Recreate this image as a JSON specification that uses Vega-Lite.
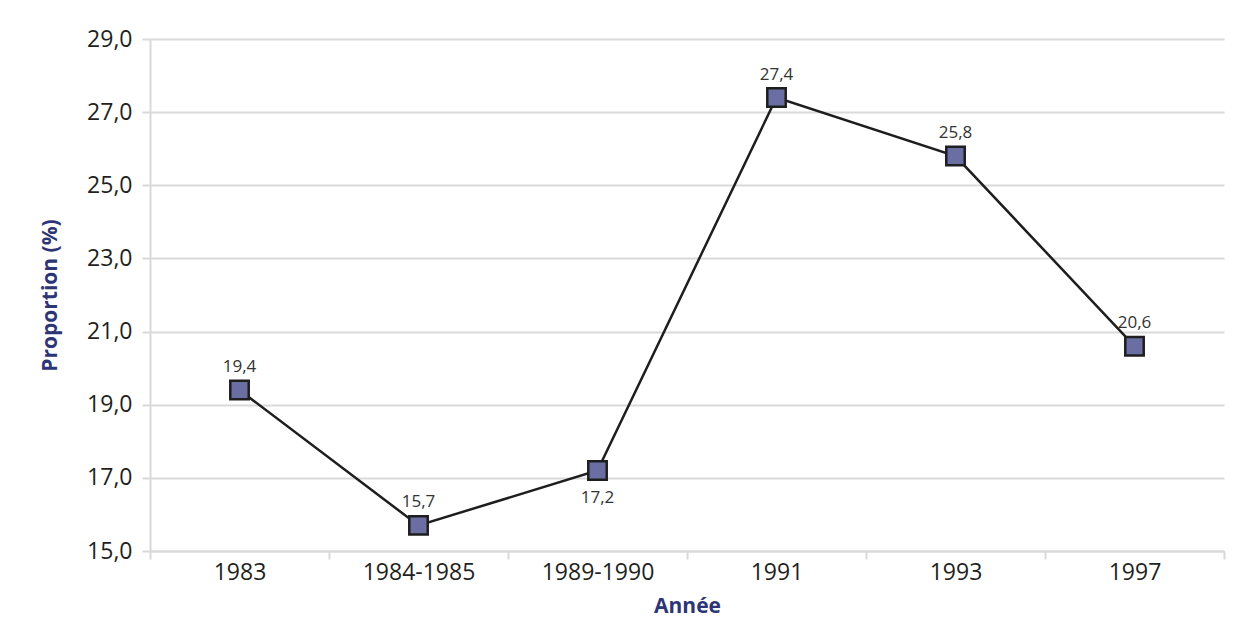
{
  "$schema": "https://vega.github.io/schema/vega-lite/v6.json",
  "width": 1074,
  "height": 512,
  "autosize": {"type": "none"},
  "padding": {"left": 150, "top": 39, "right": 28, "bottom": 81},
  "background": "white",
  "config": {
    "locale": {"number": {"decimal": ",", "thousands": " ", "grouping": [3], "currency": ["", " €"]}},
    "font": "Open Sans",
    "view": {"stroke": null}
  },
  "data": {
    "values": [
      {"annee": "1983", "proportion": 19.4},
      {"annee": "1984-1985", "proportion": 15.7},
      {"annee": "1989-1990", "proportion": 17.2},
      {"annee": "1991", "proportion": 27.4},
      {"annee": "1993", "proportion": 25.8},
      {"annee": "1997", "proportion": 20.6}
    ]
  },
  "encoding": {
    "x": {
      "field": "annee",
      "type": "nominal",
      "sort": null,
      "scale": {"type": "band", "paddingInner": 0, "paddingOuter": 0},
      "axis": {
        "title": "Année",
        "titleFont": "Open Sans",
        "titleFontSize": 21,
        "titleFontWeight": "bold",
        "titleColor": "#2e3575",
        "titlePadding": 11,
        "labelAngle": 0,
        "labelFontSize": 23,
        "labelColor": "#231f20",
        "labelPadding": 2,
        "tickBand": "extent",
        "tickSize": 8,
        "tickColor": "#d9d9d9",
        "tickWidth": 2,
        "domainColor": "#d9d9d9",
        "domainWidth": 2,
        "grid": false
      }
    },
    "y": {
      "field": "proportion",
      "type": "quantitative",
      "scale": {"domain": [15, 29], "nice": false, "zero": false},
      "axis": {
        "title": "Proportion (%)",
        "titleFont": "Open Sans",
        "titleFontSize": 21,
        "titleFontWeight": "bold",
        "titleColor": "#2e3575",
        "titlePadding": 26,
        "values": [15, 17, 19, 21, 23, 25, 27, 29],
        "format": ".1f",
        "labelFontSize": 23,
        "labelColor": "#231f20",
        "labelPadding": 10,
        "tickSize": 8,
        "tickColor": "#d9d9d9",
        "tickWidth": 2,
        "domainColor": "#d9d9d9",
        "domainWidth": 2,
        "grid": true,
        "gridColor": "#d9d9d9",
        "gridWidth": 2
      }
    }
  },
  "layer": [
    {
      "mark": {"type": "line", "color": "#1e1e1e", "strokeWidth": 2.5}
    },
    {
      "mark": {"type": "point", "shape": "square", "filled": true, "size": 340, "fill": "#6b6ea3", "stroke": "#1e1e1e", "strokeWidth": 2.5, "opacity": 1}
    },
    {
      "transform": [{"filter": "datum.annee != '1989-1990'"}],
      "mark": {"type": "text", "dy": -23, "fontSize": 17, "color": "#333333"},
      "encoding": {"text": {"field": "proportion", "type": "quantitative", "format": ".1f"}}
    },
    {
      "transform": [{"filter": "datum.annee == '1989-1990'"}],
      "mark": {"type": "text", "dy": 27, "fontSize": 17, "color": "#333333"},
      "encoding": {"text": {"field": "proportion", "type": "quantitative", "format": ".1f"}}
    }
  ]
}
